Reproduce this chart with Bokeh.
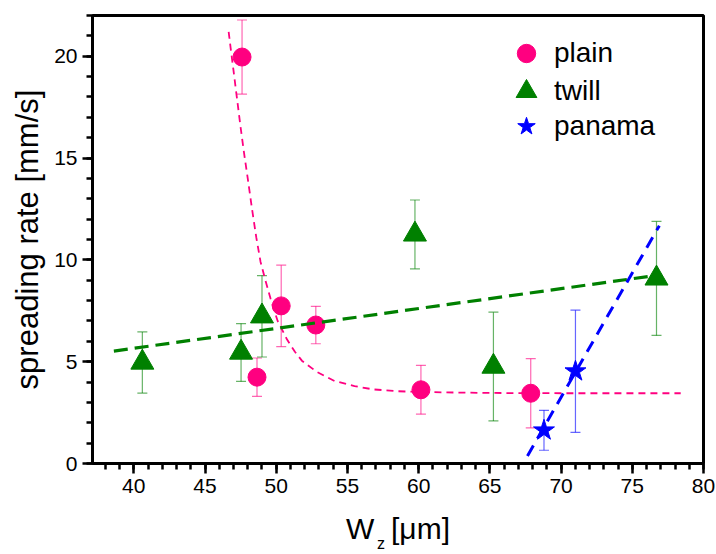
from bokeh.plotting import figure
from bokeh.models import (ColumnDataSource, Whisker, TeeHead, Legend, LegendItem,
                          SingleIntervalTicker, FixedTicker, LinearAxis,
                          CustomJSTickFormatter)
from bokeh.embed import file_html
from bokeh.resources import INLINE

# ---- data ----
plain_x = [47.6, 48.65, 50.35, 52.78, 60.16, 67.87]
plain_y = [19.96, 4.24, 7.74, 6.80, 3.62, 3.45]
plain_err = [1.82, 0.94, 2.0, 0.92, 1.2, 1.7]

twill_x = [40.6, 47.53, 49.0, 59.74, 65.25, 76.7]
twill_y = [4.96, 5.45, 7.23, 11.25, 4.76, 9.09]
twill_err = [1.5, 1.42, 2.0, 1.69, 2.67, 2.8]

panama_x = [68.8, 71.01]
panama_y = [1.63, 4.53]
panama_err = [0.98, 3.0]

# fitted curves
plain_fit_x = [46.66, 46.8, 47.0, 47.25, 47.5, 47.75, 48.0, 48.3, 48.6, 48.9, 49.2,
               49.6, 50.1, 50.75, 51.3, 51.8, 52.85, 54.1, 55.5, 56.8, 58.5, 60.2,
               63.0, 66.0, 70.0, 78.4]
plain_fit_y = [21.2, 20.4, 19.3, 17.9, 16.5, 15.2, 14.0, 12.5, 11.1, 9.9, 9.1,
               8.1, 7.0, 6.1, 5.5, 5.05, 4.5, 4.05, 3.8, 3.64, 3.55, 3.51,
               3.48, 3.46, 3.45, 3.45]
twill_fit_x = [38.6, 76.8]
twill_fit_y = [5.52, 9.25]
panama_fit_x = [67.64, 76.9]
panama_fit_y = [0.37, 11.68]

x_range = (37.1, 80.0)
y_range = (0.0, 22.0)
x_title = "W\u00a0\u00a0[μm]"
x_title_sub = "z"
x_title_sub_pos = 57.35
y_title = "spreading rate [mm/s]"

PINK = "#FF0080"
GREEN = "#008000"
BLUE = "#0000FF"
FONT = "Liberation Sans"

p = figure(width=716, height=554, x_range=x_range, y_range=y_range,
           output_backend="svg", toolbar_location=None,
           min_border_left=92, min_border_right=13, min_border_top=15, min_border_bottom=91)
p.xgrid.visible = False
p.ygrid.visible = False
p.outline_line_color = "black"
p.outline_line_width = 3
p.background_fill_color = "white"
p.border_fill_color = "white"

for ax in (p.xaxis[0], p.yaxis[0]):
    ax.ticker = SingleIntervalTicker(interval=5, num_minor_ticks=5)
    ax.axis_line_width = 3
    ax.axis_line_color = "black"
    ax.major_tick_in = 0
    ax.major_tick_out = 10
    ax.minor_tick_in = 0
    ax.minor_tick_out = 6
    ax.major_tick_line_width = 2.5
    ax.minor_tick_line_width = 2.5
    ax.major_tick_line_color = "black"
    ax.minor_tick_line_color = "black"
    ax.major_label_text_font = FONT
    ax.major_label_text_font_size = "21px"
    ax.major_label_text_color = "black"
    ax.major_label_standoff = 5
    ax.axis_label_text_font = FONT
    ax.axis_label_text_font_style = "normal"
    ax.axis_label_text_color = "black"

p.yaxis.axis_label = y_title
p.yaxis.axis_label_text_font_size = "31px"
p.yaxis.axis_label_standoff = 6

p.xaxis.axis_label = x_title
p.xaxis.axis_label_text_font_size = "30px"
p.xaxis.axis_label_standoff = 16

# subscript of the x title, drawn as a bare extra axis
sub_axis = LinearAxis(ticker=FixedTicker(ticks=[x_title_sub_pos], minor_ticks=[]),
                      formatter=CustomJSTickFormatter(code="return '%s'" % x_title_sub),
                      axis_line_color=None, major_tick_line_color=None,
                      minor_tick_line_color=None, major_tick_out=0, major_tick_in=0,
                      minor_tick_out=0, minor_tick_in=0,
                      major_label_text_font=FONT, major_label_text_font_size="16px",
                      major_label_text_color="black", major_label_standoff=-13)
p.add_layout(sub_axis, "below")

# error bars
def whisk(xs, ys, es, color):
    src = ColumnDataSource(dict(x=xs, lo=[y - e for y, e in zip(ys, es)],
                                hi=[y + e for y, e in zip(ys, es)]))
    w = Whisker(source=src, base="x", lower="lo", upper="hi", dimension="height",
                line_color=color, line_alpha=0.6, line_width=1.2,
                upper_head=TeeHead(size=10, line_color=color, line_alpha=0.6, line_width=1.2),
                lower_head=TeeHead(size=10, line_color=color, line_alpha=0.6, line_width=1.2))
    p.add_layout(w)

whisk(plain_x, plain_y, plain_err, PINK)
whisk(twill_x, twill_y, twill_err, GREEN)
whisk(panama_x, panama_y, panama_err, BLUE)

p.line(plain_fit_x, plain_fit_y, line_color=PINK, line_width=1.8, line_dash="7 5")

r_plain = p.scatter(plain_x, plain_y, marker="circle", size=18,
                    fill_color=PINK, line_color=PINK)
r_twill = p.scatter(twill_x, twill_y, marker="triangle", size=23,
                    fill_color=GREEN, line_color=GREEN)
r_panama = p.scatter(panama_x, panama_y, marker="star", size=22,
                     fill_color=BLUE, line_color=BLUE)

p.line(twill_fit_x, twill_fit_y, line_color=GREEN, line_width=3.2, line_dash="14 7")
p.line(panama_fit_x, panama_fit_y, line_color=BLUE, line_width=3, line_dash="12 8")

# legend: one box per entry for exact placement
def add_legend(label, renderer, box, loc, standoff):
    lg = Legend(items=[LegendItem(label=label, renderers=[renderer])],
                location=loc, glyph_width=box, glyph_height=box,
                padding=0, margin=0, spacing=0, label_standoff=standoff,
                label_text_font=FONT, label_text_font_size="28px",
                label_text_color="black", label_height=box,
                border_line_color=None, background_fill_alpha=0)
    p.add_layout(lg)

add_legend("plain", r_plain, 46, (411, 387), 5)
add_legend("twill", r_twill, 52, (408, 346), 2)
add_legend("panama", r_panama, 46, (411, 314), 5)

open("out.html", "w").write(file_html(p, INLINE))
